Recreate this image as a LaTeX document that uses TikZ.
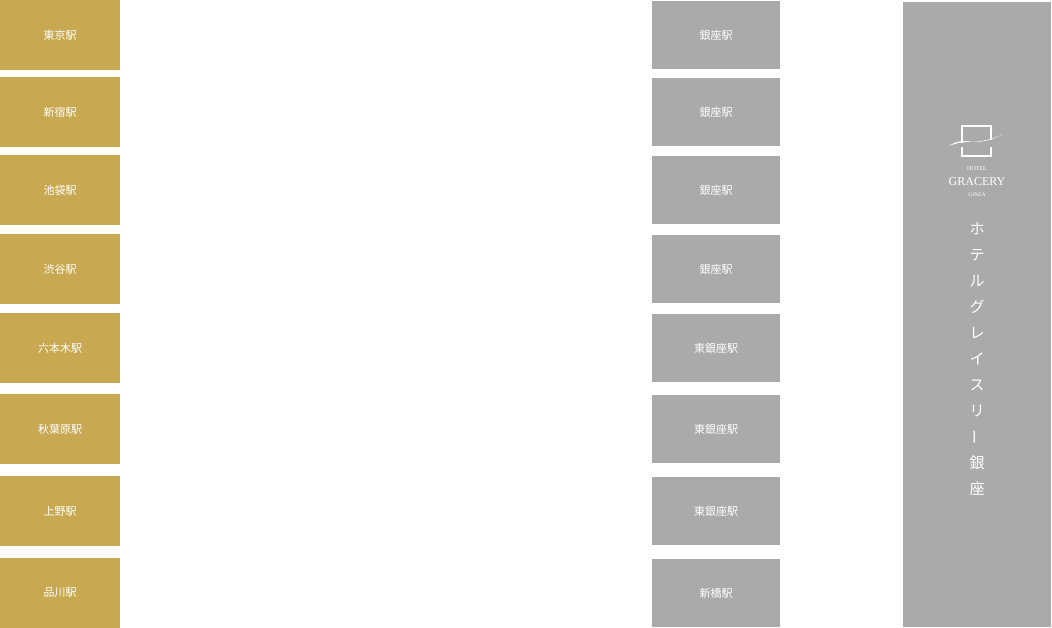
\documentclass[tikz,border=0pt]{standalone}
\usepackage{fontspec}
\newfontfamily\jp{Noto Sans CJK JP}
\newfontfamily\lat{Liberation Serif}
\definecolor{gold}{HTML}{C8A850}
\definecolor{gry}{HTML}{AAAAAA}
\begin{document}
\begin{tikzpicture}[x=1pt,y=-1pt,
  gbox/.style={fill=gold,draw=none,minimum width=120pt,minimum height=70pt,inner sep=0pt,text=white,font=\jp\fontsize{11}{13}\selectfont},
  sbox/.style={fill=gry,draw=none,minimum width=128pt,minimum height=68pt,inner sep=0pt,text=white,font=\jp\fontsize{11}{13}\selectfont},
  vch/.style={text=white,font=\jp\fontsize{15}{17}\selectfont,inner sep=0pt}]
\useasboundingbox (0,0) rectangle (1052,628);
\node[gbox] (a1) at (60,35) {東京駅};
\node[gbox] (a2) at (60,112) {新宿駅};
\node[gbox] (a3) at (60,190) {池袋駅};
\node[gbox] (a4) at (60,269) {渋谷駅};
\node[gbox] (a5) at (60,348) {六本木駅};
\node[gbox] (a6) at (60,429) {秋葉原駅};
\node[gbox] (a7) at (60,511) {上野駅};
\node[gbox] (a8) at (60,593) {品川駅};
\node[sbox] (b1) at (716,35) {銀座駅};
\node[sbox] (b2) at (716,112) {銀座駅};
\node[sbox] (b3) at (716,190) {銀座駅};
\node[sbox] (b4) at (716,269) {銀座駅};
\node[sbox] (b5) at (716,348) {東銀座駅};
\node[sbox] (b6) at (716,429) {東銀座駅};
\node[sbox] (b7) at (716,511) {東銀座駅};
\node[sbox] (b8) at (716,593) {新橋駅};
\node[fill=gry,minimum width=148pt,minimum height=625pt,inner sep=0pt] (hotel) at (977,314.5) {};
% logo
\draw[white,line width=2.2pt] (962,143) -- (962,126) -- (991,126) -- (991,140);
\draw[white,line width=2.2pt] (962,147) -- (962,156) -- (991,156) -- (991,147);
\fill[white] (949,146) .. controls (965,134) and (975,150) .. (1003,134) .. controls (980,146) and (968,138) .. (949,146) -- cycle;
\node[text=white,font=\lat\fontsize{6}{7}\selectfont,inner sep=0pt] (l1) at (977,169) {HOTEL};
\node[text=white,font=\lat\fontsize{12}{13}\selectfont,inner sep=0pt] (l2) at (977,182) {GRACERY};
\node[text=white,font=\lat\fontsize{5.5}{6}\selectfont,inner sep=0pt] (l3) at (977,195) {GINZA};
% vertical text
\foreach \c [count=\i] in {ホ,テ,ル,グ,レ,イ,ス,リ}
  \node[vch] (v\i) at (977,{203+26*\i}) {\c};
\node[vch,rotate=90] (v9) at (977,{203+26*9}) {ー};
\node[vch] (v10) at (977,{203+26*10}) {銀};
\node[vch] (v11) at (977,{203+26*11}) {座};
\end{tikzpicture}
\end{document}
